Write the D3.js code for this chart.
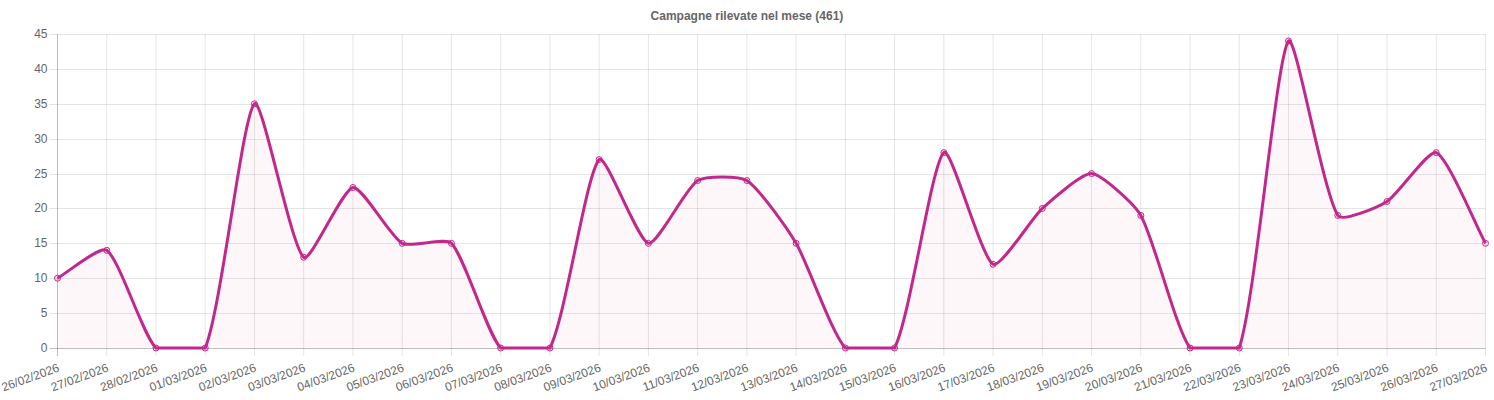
<!DOCTYPE html>
<html>
<head>
<meta charset="utf-8">
<script src="https://cdn.jsdelivr.net/npm/d3@7"></script>
<style>
  body { margin: 0; background: #fff; }
  svg { display: block; font-family: "Liberation Sans", Arial, sans-serif; }
</style>
</head>
<body>
<svg id="chart" width="1494" height="400"></svg>
<script>
const title = "Campagne rilevate nel mese (461)";
const days = ["26/02/2026","27/02/2026","28/02/2026","01/03/2026","02/03/2026","03/03/2026",
  "04/03/2026","05/03/2026","06/03/2026","07/03/2026","08/03/2026","09/03/2026","10/03/2026",
  "11/03/2026","12/03/2026","13/03/2026","14/03/2026","15/03/2026","16/03/2026","17/03/2026",
  "18/03/2026","19/03/2026","20/03/2026","21/03/2026","22/03/2026","23/03/2026","24/03/2026",
  "25/03/2026","26/03/2026","27/03/2026"];
const counts = [10,14,0,0,35,13,23,15,15,0,0,27,15,24,24,15,0,0,28,12,20,25,19,0,0,44,19,21,28,15];
const yTicks = [0,5,10,15,20,25,30,35,40,45];

const svg = d3.select("#chart"),
    width = +svg.attr("width");

const pLeft = 57.5, pRight = 1485.5, pTop = 34, pBottom = 348;
const color = "#c2288c";

const x = d3.scalePoint().domain(days).range([pLeft, pRight]);
const y = d3.scaleLinear().domain([0, 45]).range([pBottom, pTop]);

// title
svg.append("text")
    .attr("x", width / 2).attr("y", 20)
    .attr("text-anchor", "middle")
    .style("font-size", "12px").style("font-weight", "bold").style("fill", "#666")
    .text(title);

// grid
const grid = svg.append("g");
grid.selectAll(".hy").data(yTicks).enter().append("line")
    .attr("x1", pLeft - 8).attr("x2", pRight)
    .attr("y1", d => Math.round(y(d)) + 0.5).attr("y2", d => Math.round(y(d)) + 0.5)
    .attr("stroke", d => d === 0 ? "rgba(0,0,0,0.25)" : "rgba(0,0,0,0.1)");
grid.selectAll(".vx").data(days).enter().append("line")
    .attr("x1", d => x(d)).attr("x2", d => x(d))
    .attr("y1", pTop).attr("y2", pBottom + 8)
    .attr("stroke", (d, i) => i === 0 ? "rgba(0,0,0,0.25)" : "rgba(0,0,0,0.1)");

// y labels
svg.selectAll(".yl").data(yTicks).enter().append("text")
    .attr("x", pLeft - 10).attr("y", d => y(d) + 4)
    .attr("text-anchor", "end")
    .style("font-size", "12px").style("fill", "#666")
    .text(d => d);

// x labels, rotated
svg.selectAll(".xl").data(days).enter().append("text")
    .attr("transform", d => "translate(" + (x(d) + 2.5) + "," + (pBottom + 23) + ") rotate(-20)")
    .attr("text-anchor", "end")
    .style("font-size", "12px").style("fill", "#666")
    .text(d => d);

// spline like chart.js (small tension, capped to the plot area)
const pts = counts.map((v, i) => ({x: x(days[i]), y: y(v)}));
const t = 0.2;
pts.forEach((p, i) => {
    const prev = pts[i - 1] || p, next = pts[i + 1] || p;
    const d01 = Math.hypot(p.x - prev.x, p.y - prev.y);
    const d12 = Math.hypot(next.x - p.x, next.y - p.y);
    let s01 = d01 / (d01 + d12), s12 = d12 / (d01 + d12);
    if (isNaN(s01)) s01 = 0;
    if (isNaN(s12)) s12 = 0;
    const fa = t * s01, fb = t * s12;
    p.cpx1 = p.x - fa * (next.x - prev.x);
    p.cpy1 = p.y - fa * (next.y - prev.y);
    p.cpx2 = p.x + fb * (next.x - prev.x);
    p.cpy2 = p.y + fb * (next.y - prev.y);
    p.cpy1 = Math.max(pTop, Math.min(pBottom, p.cpy1));
    p.cpy2 = Math.max(pTop, Math.min(pBottom, p.cpy2));
});
let dLine = "M" + pts[0].x + "," + pts[0].y;
for (let i = 1; i < pts.length; i++) {
    const a = pts[i - 1], b = pts[i];
    dLine += "C" + a.cpx2 + "," + a.cpy2 + " " + b.cpx1 + "," + b.cpy1 + " " + b.x + "," + b.y;
}
const dArea = dLine + "L" + pts[pts.length - 1].x + "," + pBottom + "L" + pts[0].x + "," + pBottom + "Z";

svg.append("path").attr("d", dArea).attr("fill", "rgba(194,40,140,0.04)");
svg.append("path").attr("d", dLine).attr("fill", "none")
    .attr("stroke", color).attr("stroke-width", 3);

svg.selectAll(".pt").data(pts).enter().append("circle")
    .attr("cx", d => d.x).attr("cy", d => d.y).attr("r", 3)
    .attr("fill", "rgba(194,40,140,0.1)").attr("stroke", color).attr("stroke-width", 1);
</script>
</body>
</html>
